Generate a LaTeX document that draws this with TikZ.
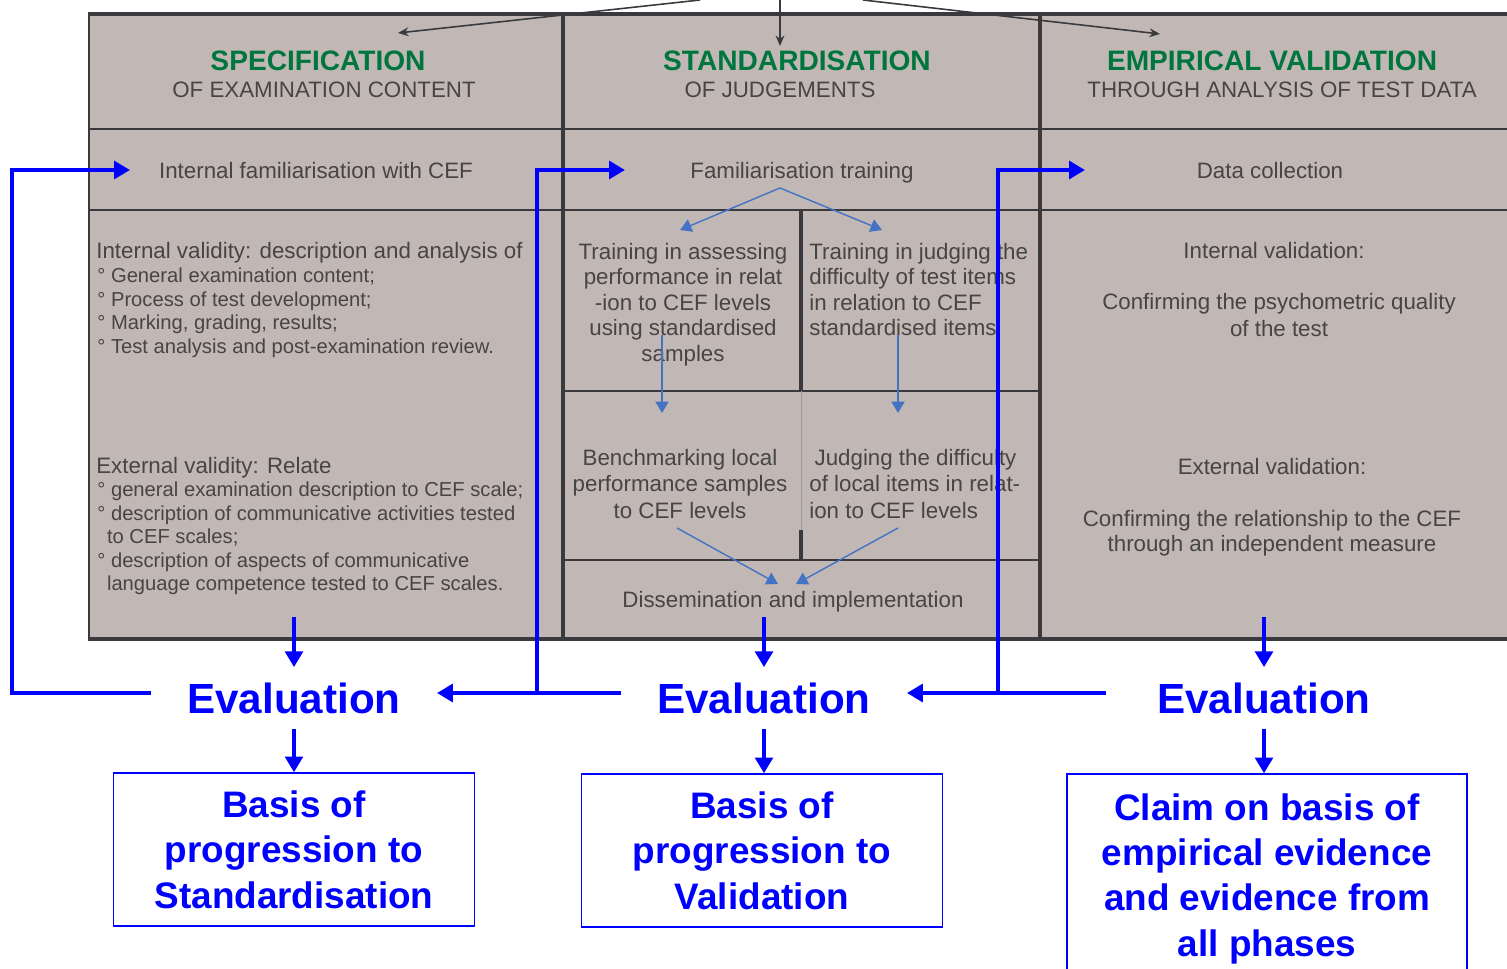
\documentclass[tikz,border=0pt]{standalone}
\usepackage{fontspec}
\setmainfont{Liberation Sans}
\usetikzlibrary{positioning, arrows.meta}
\definecolor{cellgray}{RGB}{193,184,181}
\definecolor{rulegray}{RGB}{58,57,62}
\definecolor{textgray}{RGB}{70,68,68}
\definecolor{headgreen}{RGB}{0,118,62}
\definecolor{evalblue}{RGB}{0,0,255}
\definecolor{flowblue}{RGB}{68,114,196}
\tikzset{
    x=0.02cm, y=-0.02cm, % one unit is one pixel of the chart, y runs downwards
    rule/.style={draw=rulegray, line width=1.2pt}, % inner grid lines
    heavy rule/.style={draw=rulegray, line width=2.6pt}, % frame and column separators
    phase/.style={text=headgreen, font=\fontsize{16}{18}\selectfont\bfseries, inner sep=0pt},
    sub/.style={text=textgray, font=\fontsize{12.7}{14.5}\selectfont, inner sep=0pt},
    cell/.style={sub, align=center},
    bullets/.style={text=textgray, font=\fontsize{11.5}{13.3}\selectfont, inner sep=0pt, align=left},
    eval/.style={text=evalblue, font=\fontsize{24}{28}\selectfont\bfseries, inner xsep=0.72cm, inner ysep=0.3cm},
    outcome/.style={draw=evalblue, line width=0.8pt, text=evalblue, inner sep=0pt,
        font=\fontsize{21}{25.8}\selectfont\bfseries, align=center},
    loop back/.style={draw, evalblue, line width=2.5pt, -{Triangle[length=9pt,width=10pt]}},
    feed down/.style={loop back},
    flow/.style={draw, flowblue, line width=0.8pt, -{Triangle[length=6.5pt,width=7.5pt]}},
    phase arrow/.style={draw, rulegray, line width=0.9pt, -{Stealth[length=6pt,width=5pt]}},
}

\begin{document}
\begin{tikzpicture}
    \useasboundingbox (0,0) rectangle (1507,969);
    \clip (0,0) rectangle (1507,969);

    % the gray table
    \fill[cellgray] (89,14) rectangle (1507,639);
    \draw[rule, line width=1.7pt] (89,129) -- (1507,129);
    \draw[rule] (89,210) -- (1507,210);
    \draw[rule] (563,391) -- (1040,391) (563,560) -- (1040,560);
    \draw[rule, line width=2pt] (801,210) -- (801,391) (801,530) -- (801,560);
    \draw[draw=rulegray!50, line width=0.4pt] (801,391) -- (801,530);
    \draw[rule] (89,14) -- (89,639);
    \draw[heavy rule] (563,14) -- (563,639) (1040,14) -- (1040,639);
    \draw[heavy rule] (88,14) -- (1507,14) (88,639) -- (1507,639);

    % headers
    \node[phase] (spec) at (318,61) {SPECIFICATION};
    \node[sub] (spec-sub) at (324,90) {OF EXAMINATION CONTENT};
    \node[phase] (stan) at (797,61) {STANDARDISATION};
    \node[sub] (stan-sub) at (780,90) {OF JUDGEMENTS};
    \node[phase] (emp) at (1272,61) {EMPIRICAL VALIDATION};
    \node[sub] (emp-sub) at (1282,90) {THROUGH ANALYSIS OF TEST DATA};

    \node[sub, anchor=base] (fam1) at (316,179) {Internal familiarisation with CEF};
    \node[sub, anchor=base] (fam2) at (802,179) {Familiarisation training};
    \node[sub, anchor=base] (fam3) at (1270,179) {Data collection};

    % specification column
    \node[sub, anchor=base west] (int-val) at (96,259) {Internal validity: description and analysis of};
    \node[bullets, anchor=north west] (int-list) at (97,268) {° General examination content;\\° Process of test development;\\° Marking, grading, results;\\° Test analysis and post-examination review.};
    \node[sub, anchor=base west] (ext-val) at (96,473) {External validity: Relate};
    \node[bullets, anchor=north west] (ext-list) at (97,482) {° general examination description to CEF scale;\\° description of communicative activities tested\\\hspace*{5.5pt}to CEF scales;\\° description of aspects of communicative\\\hspace*{5.5pt}language competence tested to CEF scales.};

    % standardisation column
    \node[cell, anchor=north] (train-a) at (683,243) {Training in assessing\\performance in relat\\-ion to CEF levels\\using standardised\\samples};
    \node[sub, align=left, anchor=north west] (train-j) at (809,243) {Training in judging the\\difficulty of test items\\in relation to CEF\\standardised items};
    \node[cell, anchor=north, font=\fontsize{12.7}{15}\selectfont] (bench) at (680,449) {Benchmarking local\\performance samples\\to CEF levels};
    \node[sub, align=left, anchor=north west, font=\fontsize{12.7}{15}\selectfont] (judge) at (809,449) {\hspace*{3pt}Judging the difficulty\\of local items in relat-\\ion to CEF levels};
    \node[sub, anchor=base] (dissem) at (793,607) {Dissemination and implementation};

    % validation column
    \node[sub, anchor=base] (int-v) at (1274,259) {Internal validation:};
    \node[cell, anchor=north, font=\fontsize{12.7}{15.3}\selectfont] (conf-q) at (1279,293) {Confirming the psychometric quality\\of the test};
    \node[sub, anchor=base] (ext-v) at (1272,474) {External validation:};
    \node[cell, anchor=north, font=\fontsize{12.7}{14.2}\selectfont] (conf-c) at (1272,510) {Confirming the relationship to the CEF\\through an independent measure};

    % flow inside the standardisation column
    \coordinate (split) at (780,188);
    \coordinate (ta-in) at (680,230);
    \coordinate (tj-in) at (882,230);
    \coordinate (ta-out) at (662,335);
    \coordinate (bench-in) at (662,413);
    \coordinate (tj-out) at (898,335);
    \coordinate (judge-in) at (898,413);
    \coordinate (bench-out) at (677,528);
    \coordinate (judge-out) at (898,528);
    \coordinate (dis-l) at (778,584);
    \coordinate (dis-r) at (796,584);
    \path (split) edge[flow] (ta-in) edge[flow] (tj-in)
        (ta-out) edge[flow] (bench-in)
        (tj-out) edge[flow] (judge-in)
        (bench-out) edge[flow] (dis-l)
        (judge-out) edge[flow] (dis-r);

    % arrows coming in from above
    \coordinate (src-l) at (700,0);
    \coordinate (src-m) at (780,0);
    \coordinate (src-r) at (863,0);
    \coordinate (spec-in) at (398,33);
    \coordinate (stan-in) at (780,46);
    \coordinate (emp-in) at (1160,34);
    \path (src-l) edge[phase arrow] (spec-in)
        (src-m) edge[phase arrow] (stan-in)
        (src-r) edge[phase arrow] (emp-in);

    % evaluation and outcomes
    \node[eval] (eval1) at (294,698) {Evaluation};
    \node[eval] (eval2) at (764,698) {Evaluation};
    \node[eval] (eval3) at (1264,698) {Evaluation};
    \node[outcome, minimum width=7.22cm, minimum height=3.06cm] (basis1) at (294,849.5) {Basis of\\progression to\\Standardisation};
    \node[outcome, minimum width=7.22cm, minimum height=3.06cm] (basis2) at (762,850.5) {Basis of\\progression to\\Validation};
    \node[outcome, minimum width=8cm, minimum height=4.18cm] (claim) at (1267,878.5) {Claim on basis of\\empirical evidence\\and evidence from\\all phases};

    \coordinate (out1) at (294,617);
    \coordinate (out2) at (764,617);
    \coordinate (out3) at (1264,617);
    \path (out1) edge[feed down] (eval1)
        (out2) edge[feed down] (eval2)
        (out3) edge[feed down] (eval3)
        (eval1) edge[feed down] (basis1.north -| eval1)
        (eval2) edge[feed down] (basis2.north -| eval2)
        (eval3) edge[feed down] (claim.north -| eval3);

    % feedback loops back to the start of each phase
    \coordinate (in1) at (130,170);
    \coordinate (in2) at (625,170);
    \coordinate (in3) at (1085,170);
    \coordinate (corner1) at (12,170);
    \coordinate (jn2) at (537,693);
    \coordinate (jn3) at (998,693);
    \draw[loop back] ([yshift=1mm]eval1.west) -| (corner1) -- (in1);
    \draw[loop back] ([yshift=1mm]eval2.west) -- ([yshift=1mm]eval1.east);
    \draw[loop back] (jn2) |- (in2);
    \draw[loop back] ([yshift=1mm,xshift=-0.3cm]eval3.west) -- ([yshift=1mm]eval2.east);
    \draw[loop back] (jn3) |- (in3);
\end{tikzpicture}
\end{document}
